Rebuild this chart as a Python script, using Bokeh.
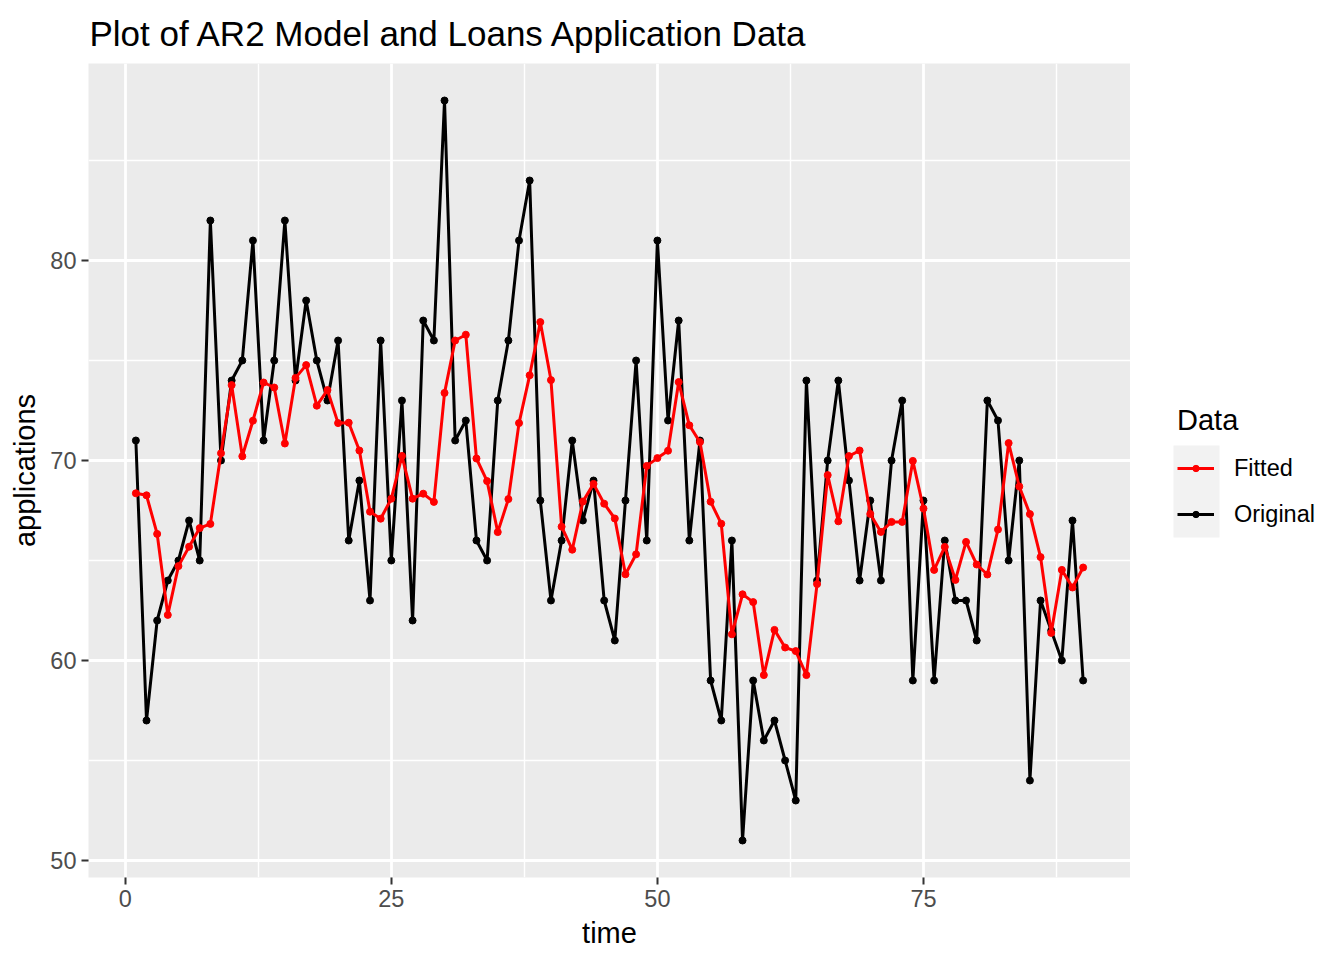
from bokeh.plotting import figure
from bokeh.layouts import row
from bokeh.models import Range1d, Legend, LegendItem, FixedTicker
from bokeh.embed import file_html
from bokeh.resources import INLINE

time = list(range(1, 91))

original = [71, 57, 62, 64, 65, 67, 65, 82, 70, 74, 75, 81, 71, 75, 82, 74, 78, 75, 73, 76,
            66, 69, 63, 76, 65, 73, 62, 77, 76, 88, 71, 72, 66, 65, 73, 76, 81, 84, 68, 63,
            66, 71, 67, 69, 63, 61, 68, 75, 66, 81, 72, 77, 66, 71, 59, 57, 66, 51, 59, 56,
            57, 55, 53, 74, 64, 70, 74, 69, 64, 68, 64, 70, 73, 59, 68, 59, 66, 63, 63, 61,
            73, 72, 65, 70, 54, 63, 61.5, 60, 67, 59]

fitted = [68.36, 68.26, 66.33, 62.28, 64.72, 65.69, 66.62, 66.83, 70.36, 73.77,
          70.21, 71.99, 73.90, 73.65, 70.85, 74.13, 74.77, 72.74, 73.52, 71.87,
          71.89, 70.50, 67.44, 67.09, 68.09, 70.23, 68.09, 68.34, 67.93, 73.38,
          76.00, 76.29, 70.10, 68.97, 66.42, 68.07, 71.87, 74.26, 76.92, 74.02,
          66.69, 65.54, 67.95, 68.83, 67.84, 67.10, 64.31, 65.31, 69.73, 70.12,
          70.49, 73.92, 71.76, 70.92, 67.94, 66.84, 61.31, 63.31, 62.92, 59.27,
          61.53, 60.65, 60.47, 59.27, 63.82, 69.27, 66.96, 70.22, 70.50, 67.33,
          66.43, 66.93, 66.93, 69.98, 67.60, 64.53, 65.68, 64.03, 65.93, 64.80,
          64.30, 66.55, 70.87, 68.70, 67.32, 65.17, 61.38, 64.53, 63.65, 64.65]

series_names = ["Fitted", "Original"]
series_colors = ["#FF0000", "#000000"]
series_values = [fitted, original]

x_ticks = [0, 25, 50, 75]
x_minor = [12.5, 37.5, 62.5, 87.5]
y_ticks = [50, 60, 70, 80]
y_minor = [55, 65, 75, 85]

FONT = "Liberation Sans"
LW = 3.0
PS = 7
BORDER_TOP, BORDER_BOTTOM = 62, 76
FRAME_H = 814

p = figure(frame_width=1042, frame_height=FRAME_H,
           x_range=Range1d(-3.45, 94.45), y_range=Range1d(49.15, 89.85),
           output_backend="svg", toolbar_location=None,
           min_border_left=88, min_border_right=0,
           min_border_top=BORDER_TOP, min_border_bottom=BORDER_BOTTOM,
           title="Plot of AR2 Model and Loans Application Data")

p.background_fill_color = "#EBEBEB"
p.border_fill_color = "white"
p.outline_line_color = None

p.title.text_font = FONT
p.title.text_font_size = "35px"
p.title.text_font_style = "normal"
p.title.text_color = "black"
p.title.align = "left"
p.title.offset = 1
p.title.standoff = 22

for ax, ticks, minor in ((p.xaxis, x_ticks, x_minor), (p.yaxis, y_ticks, y_minor)):
    ax.ticker = FixedTicker(ticks=ticks, minor_ticks=minor)
    ax.axis_line_color = None
    ax.major_tick_line_color = "#333333"
    ax.major_tick_line_width = 2
    ax.major_tick_out = 7
    ax.major_tick_in = 0
    ax.minor_tick_line_color = None
    ax.major_label_text_font = FONT
    ax.major_label_text_font_size = "23.5px"
    ax.major_label_text_color = "#4D4D4D"
    ax.major_label_standoff = 5
    ax.axis_label_text_font = FONT
    ax.axis_label_text_font_size = "29px"
    ax.axis_label_text_font_style = "normal"
    ax.axis_label_text_color = "black"

p.xaxis.axis_label = "time"
p.yaxis.axis_label = "applications"
p.xaxis.axis_label_standoff = 7
p.yaxis.axis_label_standoff = 6

for g in (p.xgrid, p.ygrid):
    g.grid_line_color = "white"
    g.grid_line_width = 2.8
    g.minor_grid_line_color = "white"
    g.minor_grid_line_width = 1.4

p.line(time, original, line_color=series_colors[1], line_width=LW)
p.scatter(time, original, size=PS, color=series_colors[1])
p.line(time, fitted, line_color=series_colors[0], line_width=LW)
p.scatter(time, fitted, size=PS, color=series_colors[0])

# legend panel: ranges in page pixels, frame aligned with the main frame
X0, W = 1130, 206
q = figure(frame_width=W, frame_height=FRAME_H,
           x_range=Range1d(X0, X0 + W),
           y_range=Range1d(BORDER_TOP + FRAME_H, BORDER_TOP),
           output_backend="svg", toolbar_location=None,
           x_axis_type=None, y_axis_type=None,
           min_border_left=0, min_border_right=0,
           min_border_top=BORDER_TOP, min_border_bottom=BORDER_BOTTOM)
q.grid.visible = False
q.outline_line_color = None
q.background_fill_color = "white"
q.border_fill_color = "white"

# grey background behind the legend keys
q.quad(left=[1173], right=[1219], top=[444], bottom=[536], fill_color="#F2F2F2", line_color=None)

items = []
for name, col, vals in zip(series_names, series_colors, series_values):
    # proxies (outside this panel's ranges, so invisible) carrying the legend style
    r1 = q.line(time, vals, line_color=col, line_width=LW)
    r2 = q.scatter(time, vals, size=PS, color=col)
    items.append(LegendItem(label=name, renderers=[r1, r2]))

legend = Legend(items=items, title="Data", location=(47, BORDER_TOP + FRAME_H - 536))
legend.title_text_font = FONT
legend.title_text_font_size = "29px"
legend.title_text_font_style = "normal"
legend.title_text_color = "black"
legend.title_standoff = 8
legend.label_text_font = FONT
legend.label_text_font_size = "23.5px"
legend.label_text_color = "black"
legend.glyph_width = 37
legend.glyph_height = 16
legend.label_height = 46
legend.spacing = 0
legend.padding = 0
legend.margin = 0
legend.label_standoff = 20
legend.background_fill_alpha = 0
legend.border_line_alpha = 0
q.add_layout(legend, "center")

layout = row(p, q, spacing=0)
open("out.html", "w").write(file_html(layout, INLINE))
